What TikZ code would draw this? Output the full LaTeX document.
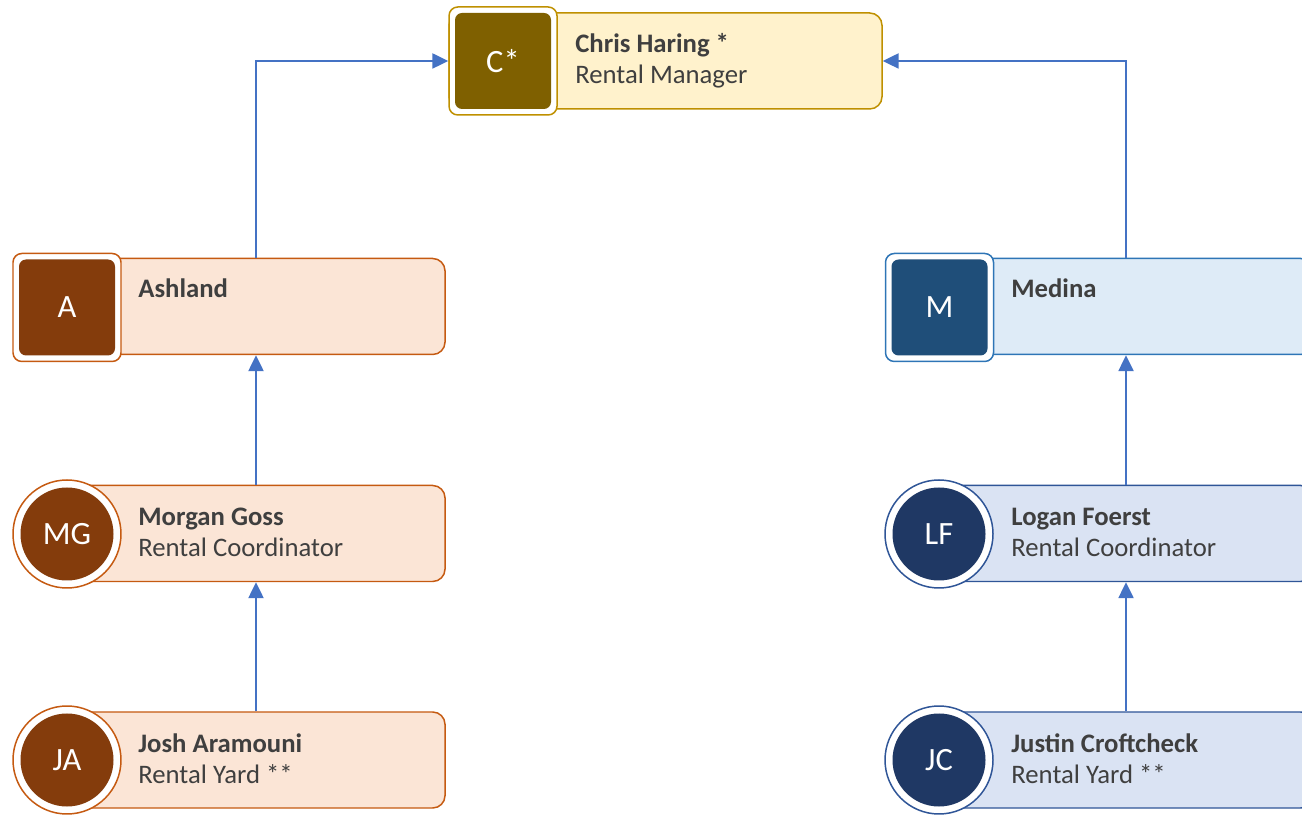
\documentclass[tikz,border=0pt]{standalone}
\usepackage{fontspec}
\setmainfont{Carlito}
\usetikzlibrary{arrows.meta}

\definecolor{linkblue}{HTML}{4472C4}
\definecolor{txtgray}{HTML}{3F3F3F}
\definecolor{goldline}{HTML}{BF9000}
\definecolor{goldfill}{HTML}{FFF2CC}
\definecolor{golddark}{HTML}{7F6000}
\definecolor{rustline}{HTML}{C55A11}
\definecolor{rustfill}{HTML}{FBE5D6}
\definecolor{rustdark}{HTML}{843C0C}
\definecolor{skyline}{HTML}{2E75B6}
\definecolor{skyfill}{HTML}{DEEBF7}
\definecolor{skydark}{HTML}{1F4E79}
\definecolor{navyline}{HTML}{2F5597}
\definecolor{navyfill}{HTML}{DAE3F3}
\definecolor{navydark}{HTML}{1F3864}

\begin{document}
\begin{tikzpicture}

      \path[use as bounding box, clip] (0,0) rectangle (26.04,16.28);

      % card bodies
      \begin{scope}[every node/.style={rectangle,rounded corners=7pt,line width=0.85pt,
          minimum height=1.92cm,inner sep=0pt}]
        \node[draw=goldline,fill=goldfill,minimum width=8.66cm] (chris) at (13.31,15.06) {};
        \node[draw=rustline,fill=rustfill,minimum width=7.56cm] (ashland) at (5.12,10.15) {};
        \node[draw=rustline,fill=rustfill,minimum width=7.56cm] (morgan) at (5.12,5.61) {};
        \node[draw=rustline,fill=rustfill,minimum width=7.56cm] (josh) at (5.12,1.08) {};
        \node[draw=skyline,fill=skyfill,minimum width=7.48cm] (medina) at (22.52,10.15) {};
        \node[draw=navyline,fill=navyfill,minimum width=7.48cm] (logan) at (22.52,5.61) {};
        \node[draw=navyline,fill=navyfill,minimum width=7.48cm] (justin) at (22.52,1.08) {};
      \end{scope}

      % square badges
      \begin{scope}[every node/.style={rectangle,rounded corners=5pt,line width=0.85pt,
          fill=white,minimum size=2.16cm,inner sep=0pt}]
        \node[draw=goldline] (chrisring) at (10.06,15.06) {};
        \node[draw=rustline] (ashlandring) at (1.34,10.13) {};
        \node[draw=skyline] (medinaring) at (18.79,10.13) {};
      \end{scope}

      % round badges
      \begin{scope}[every node/.style={circle,line width=0.85pt,
          fill=white,minimum size=2.16cm,inner sep=0pt}]
        \node[draw=rustline] (morganring) at (1.34,5.6) {};
        \node[draw=rustline] (joshring) at (1.34,1.08) {};
        \node[draw=navyline] (loganring) at (18.78,5.6) {};
        \node[draw=navyline] (justinring) at (18.78,1.08) {};
      \end{scope}

      % initials
      \begin{scope}[every node/.style={text=white,inner sep=0pt,
          font=\fontsize{18.5}{20}\selectfont}]
        \node[rectangle,rounded corners=4pt,fill=golddark,minimum size=1.92cm] (chrisini) at (chrisring) {C*};
        \node[rectangle,rounded corners=4pt,fill=rustdark,minimum size=1.92cm] (ashlandini) at (ashlandring) {A};
        \node[rectangle,rounded corners=4pt,fill=skydark,minimum size=1.92cm] (medinaini) at (medinaring) {M};
        \node[circle,fill=rustdark,minimum size=1.86cm] (morganini) at (morganring) {MG};
        \node[circle,fill=rustdark,minimum size=1.86cm] (joshini) at (joshring) {JA};
        \node[circle,fill=navydark,minimum size=1.86cm] (loganini) at (loganring) {LF};
        \node[circle,fill=navydark,minimum size=1.86cm] (justinini) at (justinring) {JC};
      \end{scope}

      % names and roles
      \begin{scope}[every node/.style={anchor=base west,inner sep=0pt,text=txtgray,
          font=\fontsize{15.2}{17}\selectfont}]
        \node[font=\fontsize{15.2}{17}\selectfont\bfseries] (chrisname) at (11.5,15.22) {Chris Haring *};
        \node (chrisrole) at (11.5,14.6) {Rental Manager};
        \node[font=\fontsize{15.2}{17}\selectfont\bfseries] (ashlandname) at (2.76,10.32) {Ashland};
        \node[font=\fontsize{15.2}{17}\selectfont\bfseries] (morganname) at (2.76,5.76) {Morgan Goss};
        \node (morganrole) at (2.76,5.14) {Rental Coordinator};
        \node[font=\fontsize{15.2}{17}\selectfont\bfseries] (joshname) at (2.76,1.24) {Josh Aramouni};
        \node (joshrole) at (2.76,0.62) {Rental Yard **};
        \node[font=\fontsize{15.2}{17}\selectfont\bfseries] (medinaname) at (20.22,10.32) {Medina};
        \node[font=\fontsize{15.2}{17}\selectfont\bfseries] (loganname) at (20.22,5.76) {Logan Foerst};
        \node (loganrole) at (20.22,5.14) {Rental Coordinator};
        \node[font=\fontsize{15.2}{17}\selectfont\bfseries] (justinname) at (20.22,1.24) {Justin Croftcheck};
        \node (justinrole) at (20.22,0.62) {Rental Yard **};
      \end{scope}

      % reporting lines
      \begin{scope}[every path/.style={draw=linkblue,line width=1.2pt,
          -{Triangle[length=9pt,width=8.5pt]}}]
        \path (ashland.north) |- (chris.west);
        \path (medina.north) |- (chris.east);
        \path (morgan.north) -- (ashland.south);
        \path (josh.north) -- (morgan.south);
        \path (logan.north) -- (medina.south);
        \path (justin.north) -- (logan.south);
      \end{scope}

    \end{tikzpicture}
\end{document}
